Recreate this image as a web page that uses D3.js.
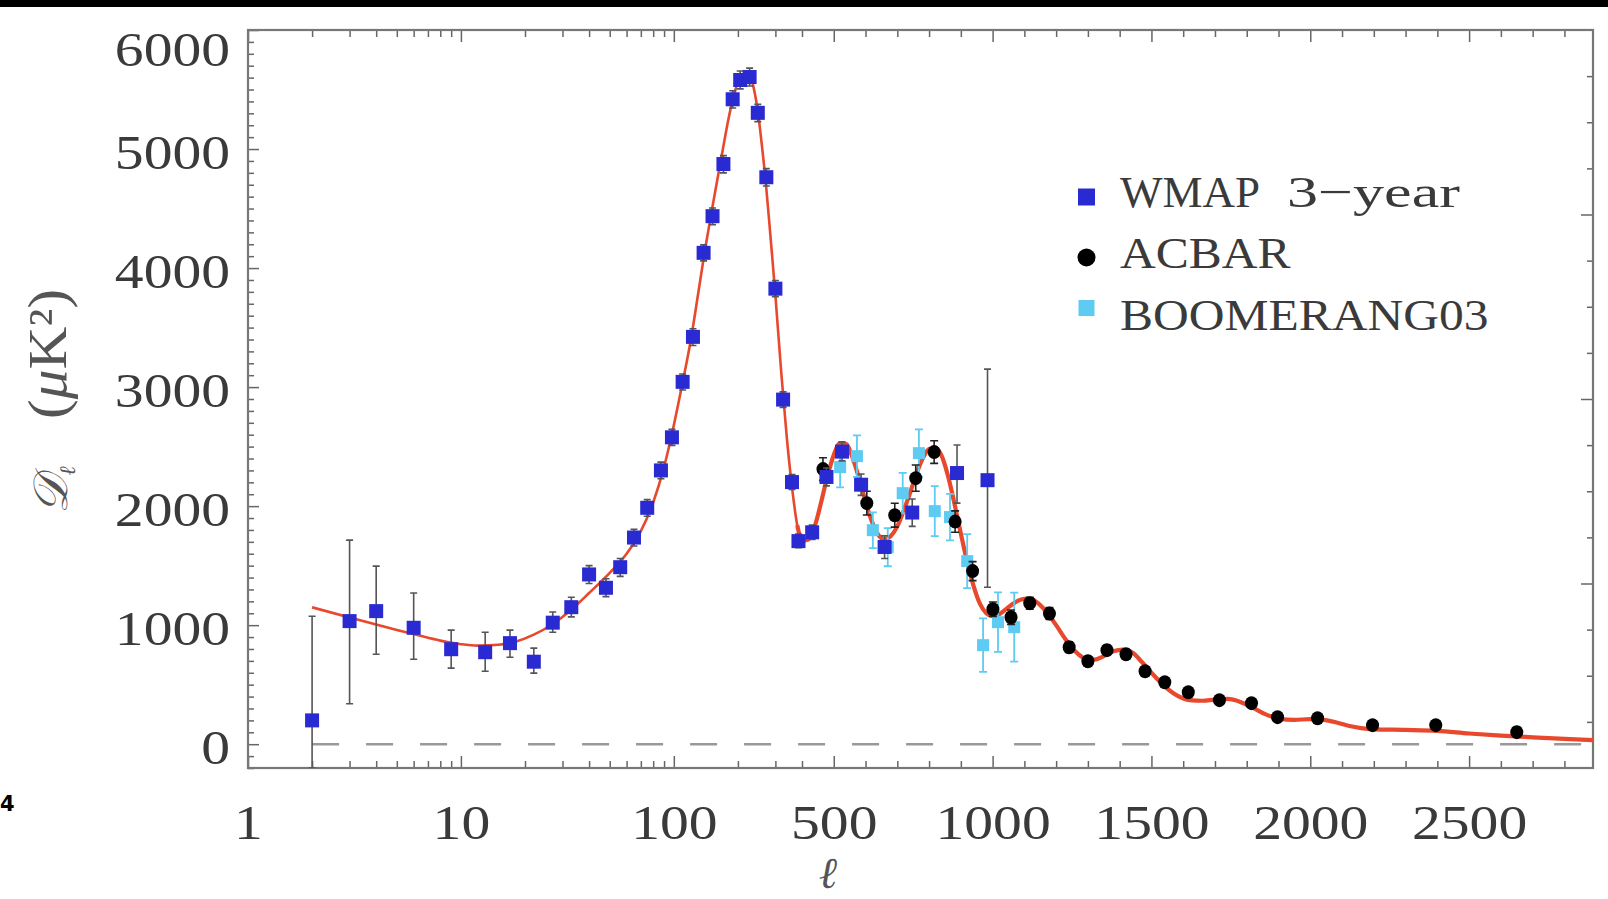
<!DOCTYPE html>
<html><head><meta charset="utf-8">
<script src="https://cdn.jsdelivr.net/npm/d3@7/dist/d3.min.js"></script>
<style>html,body{margin:0;padding:0;background:#fff;overflow:hidden}</style>
</head><body>
<svg id="chart" width="1608" height="899"></svg>
<script>
// ---------- DATA ----------
const wmapL  = [2,3,4,6,9,13,17,22,27,33,40,48,56,65,75,87,98,110,123,138,152,171,189,205,227,248,272,300,326,359,385,432,477,526,586,660,747,888,984];
const wmapD  = [200,1034,1118,978,798,773,849,693,1021,1151,1426,1314,1487,1736,1986,2300,2578,3044,3422,4128,4436,4874,5418,5580,5605,5304,4763,3827,2895,2202,1706,1780,2245,2458,2180,1657,1946,2278,2218];
const wmapLo = [-200,340,756,714,639,613,731,597,940,1070,1350,1240,1410,1665,1915,2230,2510,2975,3350,4060,4365,4800,5345,5505,5530,5230,4690,3760,2830,2140,1650,1720,2170,2380,2090,1560,1830,2025,1319];
const wmapHi = [1075,1714,1496,1270,958,941,958,807,1110,1235,1500,1390,1560,1805,2055,2370,2645,3110,3490,4195,4505,4945,5490,5655,5680,5375,4835,3895,2960,2265,1765,1840,2320,2540,2270,1750,2060,2513,3151];

const acbarL   = [466,604,692,758,816,882,937,1001,1058,1117,1179,1241,1300,1360,1420,1480,1542,1616,1714,1815,1897,2023,2196,2395,2650];
const acbarD   = [2311,2025,1924,2235,2454,1870,1454,1134,1067,1185,1097,815,697,790,756,613,521,437,370,345,227,218,160,160,101];
const acbarErr = [95,100,100,110,95,90,80,60,60,50,50,45,40,40,40,35,35,30,30,30,30,30,30,35,40];

const boomL   = [520,573,623,670,717,768,818,866,920,970,1017,1068];
const boomD   = [2328,2420,1798,1655,2109,2445,1958,1908,1538,832,1025,983];
const boomErr = [170,175,150,160,170,200,210,195,227,225,250,290];

const theoryL = [2,3,4,5,6,8,10,12,15,18,22,27,33,40,50,60,70,80,90,100,110,120,130,140,150,160,170,180,190,200,210,220,230,240,250,260,270,280,290,300,320,340,360,380,400,420,440,460,480,500,520,540,560,580,600,620,640,660,680,700,720,740,760,780,800,820,840,860,880,900,920,940,960,980,1000,1020,1040,1070,1100,1120,1140,1170,1200,1230,1260,1290,1320,1350,1380,1410,1440,1470,1500,1540,1580,1620,1660,1700,1740,1780,1820,1860,1900,1950,2000,2040,2080,2120,2160,2200,2300,2400,2500,2600,2700,2800,2890];
const theoryD = [1150,1065,1005,960,925,870,840,828,835,860,920,1010,1130,1270,1440,1600,1790,2030,2330,2680,3040,3390,3780,4150,4460,4740,5000,5240,5430,5560,5625,5640,5600,5470,5270,5010,4730,4410,4090,3770,3110,2560,2140,1840,1710,1720,1830,2030,2250,2430,2530,2520,2400,2230,2040,1870,1760,1720,1750,1830,1960,2110,2270,2400,2480,2490,2420,2250,2020,1770,1530,1330,1180,1100,1075,1090,1130,1190,1220,1220,1190,1110,1000,880,780,720,710,740,780,795,770,690,600,490,410,370,365,375,380,355,305,250,215,205,210,205,185,155,135,125,120,112,90,72,58,45,35];

const xMajorLog = [1,10,100];
const xMinorLog = [2,3,4,5,6,7,8,9,20,30,40,50,60,70,80,90,200,300,400];
const xMajorLin = [500,1000,1500,2000,2500];
const xMinorLin = [600,700,800,900,1100,1200,1300,1400,1600,1700,1800,1900,2100,2200,2300,2400,2600,2700,2800];
const yMajor = [0,1000,2000,3000,4000,5000,6000];
const legendNames = ["WMAP","3\u2212year","ACBAR","BOOMERANG03"];

// ---------- LAYOUT ----------
const L = 248, R = 1593, T = 30, B = 768;
const LBREAK = 400, LMAX = 2890;
const xLog = d3.scaleLog().domain([1, LBREAK]).range([L, 802]);
const xLin = d3.scaleLinear().domain([LBREAK, LMAX]).range([802, R]);
const x = l => (l <= LBREAK ? xLog(l) : xLin(l));
const y = d3.scaleLinear().domain([-200, 6000]).range([B, T]);

const COL_WMAP = "#2a2ad2", COL_BOOM = "#5ecbf2", COL_RED = "#e8482c";
const FONT = "'Liberation Serif','Times New Roman',serif";
const TXT = "#3a3a3a";

const svg = d3.select("#chart");
svg.append("rect").attr("width",1608).attr("height",899).attr("fill","#fff");
svg.append("rect").attr("width",1608).attr("height",7).attr("fill","#000");
svg.append("text").attr("x",0).attr("y",811).attr("font-family","'DejaVu Sans',sans-serif")
   .attr("font-weight","900").attr("font-size",21).attr("fill","#000").text("4");

svg.append("clipPath").attr("id","clip").append("rect")
   .attr("x",L).attr("y",T).attr("width",R-L).attr("height",B-T);

// ---------- AXES (ticks inward on all four sides) ----------
function styleAxis(g){
  g.select(".domain").remove();
  g.selectAll(".tick line").attr("stroke","#666").attr("stroke-width",1.5);
  g.selectAll("text").attr("font-family",FONT).attr("fill",TXT);
}
const tickLabel = (sel, tx, ty, anchor) => sel.selectAll("text")
   .attr("x",0).attr("y",0).attr("dy",null).attr("font-size",48)
   .attr("text-anchor",anchor)
   .attr("transform",`translate(${tx},${ty}) scale(1.2,1)`);

// bottom + top mirror
[[xLog,xMajorLog,-12,true],[xLog,xMinorLog,-7,false],[xLin,xMajorLin,-12,true],[xLin,xMinorLin,-7,false]]
.forEach(([sc,vals,sz,lab])=>{
  const g = svg.append("g").attr("transform",`translate(0,${B})`)
    .call(d3.axisBottom(sc).tickValues(vals).tickSizeInner(sz).tickSizeOuter(0)
      .tickFormat(lab ? d3.format("d") : ""));
  styleAxis(g);
  if(lab) tickLabel(g,0,71,"middle");
  const gt = svg.append("g").attr("transform",`translate(0,${T})`)
    .call(d3.axisTop(sc).tickValues(vals).tickSizeInner(sz).tickSizeOuter(0).tickFormat(""));
  styleAxis(gt);
});

// left
const yMinor = d3.range(-200, 6001, 100).filter(v => v % 1000 !== 0);
const gl = svg.append("g").attr("transform",`translate(${L},0)`)
  .call(d3.axisLeft(y).tickValues(yMajor).tickSizeInner(-11).tickSizeOuter(0).tickFormat(d3.format("d")));
styleAxis(gl);
tickLabel(gl,-18,19,"end");
gl.selectAll(".tick").filter(d => d === 6000).select("text")
  .attr("transform","translate(-18,35) scale(1.2,1)");
const glm = svg.append("g").attr("transform",`translate(${L},0)`)
  .call(d3.axisLeft(y).tickValues(yMinor).tickSizeInner(-6).tickSizeOuter(0).tickFormat(""));
styleAxis(glm);

// right (independent scale, 16 equal intervals)
const yR = d3.scaleLinear().domain([0,16]).range([B,T]);
const gr = svg.append("g").attr("transform",`translate(${R},0)`)
  .call(d3.axisRight(yR).tickValues(d3.range(1,16)).tickSizeOuter(0).tickFormat(""));
styleAxis(gr);
gr.selectAll(".tick line").attr("x2", d => d % 4 === 0 ? -12 : -6);

// frame
svg.append("rect").attr("x",L).attr("y",T).attr("width",R-L).attr("height",B-T)
   .attr("fill","none").attr("stroke","#777").attr("stroke-width",2.2);

// ---------- PLOT CONTENT ----------
const plot = svg.append("g").attr("clip-path","url(#clip)");

plot.append("line").attr("x1",x(2)).attr("x2",R).attr("y1",y(0)).attr("y2",y(0))
  .attr("stroke","#999").attr("stroke-width",2.5).attr("stroke-dasharray","27,27");

const theory = theoryL.map((l,i)=>({l, v: theoryD[i]}));
const line = d3.line().x(d=>x(d.l)).y(d=>y(d.v)).curve(d3.curveMonotoneX);
plot.append("path").datum(theory.filter(d=>d.l<=LBREAK))
  .attr("d",line).attr("fill","none").attr("stroke",COL_RED).attr("stroke-width",2.6);
plot.append("path").datum(theory.filter(d=>d.l>=380))
  .attr("d",line).attr("fill","none").attr("stroke",COL_RED).attr("stroke-width",4.2);

function errBars(Ls, lo, hi, color, w, cap){
  plot.append("g").selectAll("path").data(Ls).join("path")
    .attr("d",(l,i)=>{
      const px = x(l), a = y(hi[i]), b = y(lo[i]);
      return `M${px-cap},${a}H${px+cap}M${px},${a}V${b}M${px-cap},${b}H${px+cap}`;
    })
    .attr("fill","none").attr("stroke",color).attr("stroke-width",w);
}

// BOOMERANG03
errBars(boomL, boomD.map((v,i)=>v-boomErr[i]), boomD.map((v,i)=>v+boomErr[i]), COL_BOOM, 1.8, 4);
plot.append("g").selectAll("rect").data(boomL).join("rect")
  .attr("x",l=>x(l)-6).attr("y",(l,i)=>y(boomD[i])-6).attr("width",12).attr("height",12)
  .attr("fill",COL_BOOM);

// ACBAR
errBars(acbarL, acbarD.map((v,i)=>v-acbarErr[i]), acbarD.map((v,i)=>v+acbarErr[i]), "#222", 1.6, 4);
plot.append("g").selectAll("ellipse").data(acbarL).join("ellipse")
  .attr("cx",l=>x(l)).attr("cy",(l,i)=>y(acbarD[i])).attr("rx",6.5).attr("ry",7)
  .attr("fill","#000");

// WMAP
errBars(wmapL, wmapLo, wmapHi, "#555", 1.6, 3.5);
plot.append("g").selectAll("rect").data(wmapL).join("rect")
  .attr("x",l=>x(l)-7).attr("y",(l,i)=>y(wmapD[i])-7).attr("width",14).attr("height",14)
  .attr("fill",COL_WMAP);

// ---------- LEGEND ----------
const leg = svg.append("g");
leg.append("rect").attr("x",1078).attr("y",188.5).attr("width",17).attr("height",17).attr("fill",COL_WMAP);
leg.append("circle").attr("cx",1086.5).attr("cy",257.5).attr("r",9).attr("fill","#000");
leg.append("rect").attr("x",1078.5).attr("y",300).attr("width",16).attr("height",16).attr("fill",COL_BOOM);
const legText = (tx, ty, sx, txt) => leg.append("text")
  .attr("transform",`translate(${tx},${ty}) scale(${sx},1)`)
  .attr("font-family",FONT).attr("font-size",45).attr("fill",TXT).text(txt);
legText(1120, 207, 1.0, legendNames[0]);
legText(1287, 207, 1.38, legendNames[1]);
legText(1120, 268, 1.1, legendNames[2]);
legText(1120, 330, 1.1, legendNames[3]);

// ---------- AXIS TITLES ----------
svg.append("text").attr("x",828).attr("y",888).attr("text-anchor","middle")
  .attr("font-family",FONT).attr("font-style","italic").attr("font-size",44).attr("fill","#555")
  .text("\u2113");

const yt1 = svg.append("text").attr("transform","translate(67,490) rotate(-90)")
  .attr("text-anchor","middle").attr("font-family",FONT).attr("font-size",48).attr("fill","#555");
yt1.append("tspan").attr("font-style","italic").text("\uD835\uDC9F");
yt1.append("tspan").attr("font-size",22).attr("dy",8).attr("font-style","italic").text("\u2113");

const yt2 = svg.append("text").attr("transform","translate(66,354) rotate(-90) scale(1.1,1)")
  .attr("text-anchor","middle").attr("font-family",FONT).attr("font-size",54).attr("fill","#555");
yt2.append("tspan").text("(");
yt2.append("tspan").attr("font-style","italic").text("\u03BC");
yt2.append("tspan").text("K\u00B2)");
</script>
</body></html>
